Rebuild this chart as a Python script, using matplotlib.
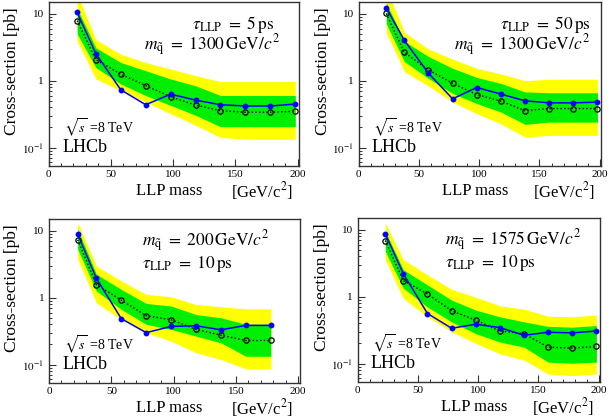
import numpy as np
import matplotlib
matplotlib.use("Agg")
import matplotlib.pyplot as plt
from matplotlib.ticker import MultipleLocator, FixedLocator, FixedFormatter, LogLocator, NullFormatter

plt.rcParams['font.family'] = ['Liberation Serif', 'DejaVu Serif']
plt.rcParams['mathtext.fontset'] = 'stix'

# LLP masses [GeV/c^2]
mass = [23, 38, 58, 78, 98, 118, 138, 158, 178, 198]

# tau = 5 ps, m_sq = 1300
obs1 = [10.5, 2.53, 0.73, 0.437, 0.628, 0.512, 0.437, 0.418, 0.418, 0.447]
exp1 = [7.88, 2.07, 1.25, 0.844, 0.574, 0.432, 0.356, 0.337, 0.337, 0.349]
yhi1 = [20, 4.13, 2.48, 1.87, 1.49, 1.19, 0.97, 0.97, 0.97, 0.97]
ghi1 = [12.0, 3.10, 1.87, 1.41, 1.06, 0.84, 0.60, 0.60, 0.60, 0.60]
glo1 = [5.0, 1.57, 0.893, 0.60, 0.427, 0.304, 0.205, 0.205, 0.205, 0.205]
ylo1 = [3.9, 1.06, 0.71, 0.478, 0.32, 0.216, 0.142, 0.133, 0.133, 0.133]

# tau = 50 ps, m_sq = 1300
obs2 = [12.3, 4.0, 1.29, 0.535, 0.79, 0.63, 0.50, 0.466, 0.466, 0.477]
exp2 = [10.1, 2.64, 1.45, 0.91, 0.62, 0.494, 0.357, 0.383, 0.383, 0.383]
yhi2 = [25, 5.3, 2.97, 2.1, 1.53, 1.26, 1.0, 1.05, 1.05, 1.05]
ghi2 = [14.6, 3.87, 2.3, 1.53, 1.12, 0.91, 0.68, 0.66, 0.66, 0.66]
glo2 = [7.1, 1.93, 1.08, 0.645, 0.455, 0.34, 0.222, 0.24, 0.24, 0.24]
ylo2 = [5.2, 1.37, 0.83, 0.48, 0.32, 0.227, 0.143, 0.152, 0.152, 0.152]

# m_sq = 200, tau = 10 ps (no 198 point)
obs3 = [8.9, 1.95, 0.485, 0.30, 0.372, 0.38, 0.331, 0.385, 0.385]
exp3 = [7.33, 1.57, 0.92, 0.537, 0.468, 0.335, 0.275, 0.229, 0.229]
yhi3 = [13.3, 2.98, 1.78, 1.12, 1.03, 0.79, 0.73, 0.68, 0.68]
ghi3 = [10.6, 2.24, 1.33, 0.82, 0.75, 0.56, 0.5, 0.4, 0.4]
glo3 = [5.3, 1.26, 0.668, 0.4, 0.335, 0.266, 0.211, 0.133, 0.133]
ylo3 = [3.76, 0.84, 0.47, 0.30, 0.224, 0.15, 0.119, 0.086, 0.086]

# m_sq = 1575, tau = 10 ps
obs4 = [8.7, 2.2, 0.56, 0.337, 0.387, 0.345, 0.264, 0.294, 0.287, 0.307]
exp4 = [6.9, 1.74, 1.1, 0.615, 0.445, 0.307, 0.28, 0.176, 0.17, 0.18]
yhi4 = [12.7, 3.57, 2.12, 1.29, 0.98, 0.73, 0.65, 0.51, 0.5, 0.53]
ghi4 = [9.5, 2.52, 1.5, 0.89, 0.63, 0.5, 0.42, 0.36, 0.35, 0.37]
glo4 = [4.76, 1.34, 0.7, 0.42, 0.28, 0.21, 0.176, 0.105, 0.101, 0.105]
ylo4 = [3.57, 0.94, 0.5, 0.3, 0.2, 0.14, 0.113, 0.07, 0.066, 0.07]

tau_lbl = [r'$\tau_{\rm LLP}\ =\ 5\,{\rm ps}$', r'$\tau_{\rm LLP}\ =\ 50\,{\rm ps}$',
           r'$\tau_{\rm LLP}\ =\ 10\,{\rm ps}$', r'$\tau_{\rm LLP}\ =\ 10\,{\rm ps}$']
msq_lbl = [r'$m_{\tilde{\rm q}}\ =\ 1300\,{\rm GeV}/c^2$', r'$m_{\tilde{\rm q}}\ =\ 1300\,{\rm GeV}/c^2$',
           r'$m_{\tilde{\rm q}}\ =\ 200\,{\rm GeV}/c^2$', r'$m_{\tilde{\rm q}}\ =\ 1575\,{\rm GeV}/c^2$']

W, H = 610, 418
fig = plt.figure(figsize=(W / 100, H / 100), dpi=100)

# axes boxes in pixels: left, top, right, bottom
boxes = [(48.5, 2, 299, 166), (358.5, 2, 601, 166),
         (49, 219, 299.5, 383), (357.5, 218, 600, 382)]
panels = [(obs1, exp1, yhi1, ghi1, glo1, ylo1),
          (obs2, exp2, yhi2, ghi2, glo2, ylo2),
          (obs3, exp3, yhi3, ghi3, glo3, ylo3),
          (obs4, exp4, yhi4, ghi4, glo4, ylo4)]

for i, (box, data) in enumerate(zip(boxes, panels)):
    l, t, r, b = box
    ax = fig.add_axes([l / W, 1 - b / H, (r - l) / W, (b - t) / H])
    obs, exp, yhi, ghi, glo, ylo = data
    x = mass[:len(obs)]

    ax.fill_between(x, ylo, yhi, color='#ffff00', lw=0)
    ax.fill_between(x, glo, ghi, color='#00ee00', lw=0)
    ax.plot(x, exp, ':', color='black', lw=1.0, marker='o', ms=3.8,
            mfc='none', mec='black', mew=0.9)
    ax.plot(x, obs, '-', color='#0000ff', lw=1.1, marker='o', ms=3.2,
            mfc='#0000ff', mec='#0000ff')

    ax.set_yscale('log')
    ax.set_ylim(0.053, 15)
    ax.set_xlim(0, 201)

    ax.xaxis.set_major_locator(MultipleLocator(50))
    ax.xaxis.set_minor_locator(MultipleLocator(10))
    ax.yaxis.set_major_locator(FixedLocator([0.1, 1, 10]))
    ax.yaxis.set_major_formatter(FixedFormatter([r'$10^{-1}$', '1', '10']))
    ax.yaxis.set_minor_locator(LogLocator(base=10, subs=np.arange(2, 10)))
    ax.yaxis.set_minor_formatter(NullFormatter())
    ax.tick_params(which='both', direction='in', labelsize=8, color='#333333',
                   top=False, right=False)
    ax.tick_params(which='major', length=5, width=0.8)
    ax.tick_params(which='minor', length=2.5, width=0.7)
    ax.tick_params(axis='x', pad=3)
    for s in ax.spines.values():
        s.set_color('#333333')
        s.set_linewidth(1.0)

    ax.set_ylabel('Cross-section [pb]', fontsize=12.5)
    ax.yaxis.set_label_coords(-0.115, 0.58)
    ax.text(0.48, -0.15, 'LLP mass', transform=ax.transAxes, fontsize=12,
            ha='center', va='center')
    ax.text(0.975, -0.15, r'[GeV/c$^2$]', transform=ax.transAxes, fontsize=12,
            ha='right', va='center')

    ax.text(0.06, 0.235, r'$\sqrt{s}$ =8 TeV', transform=ax.transAxes,
            fontsize=10, ha='left', va='center')
    ax.text(0.055, 0.11, 'LHCb', transform=ax.transAxes, fontsize=13,
            ha='left', va='center')

    if i < 2:
        ax.text(0.90 if i == 0 else 0.96, 0.865, tau_lbl[i], transform=ax.transAxes,
                fontsize=12.5, ha='right', va='center')
        ax.text(0.925 if i == 0 else 0.955, 0.735, msq_lbl[i], transform=ax.transAxes,
                fontsize=12.5, ha='right', va='center')
    else:
        x0 = 0.37 if i == 2 else 0.36
        ax.text(x0, 0.865, msq_lbl[i], transform=ax.transAxes,
                fontsize=12.5, ha='left', va='center')
        ax.text(x0, 0.725, tau_lbl[i], transform=ax.transAxes,
                fontsize=12.5, ha='left', va='center')

fig.savefig('out.png', dpi=100)
